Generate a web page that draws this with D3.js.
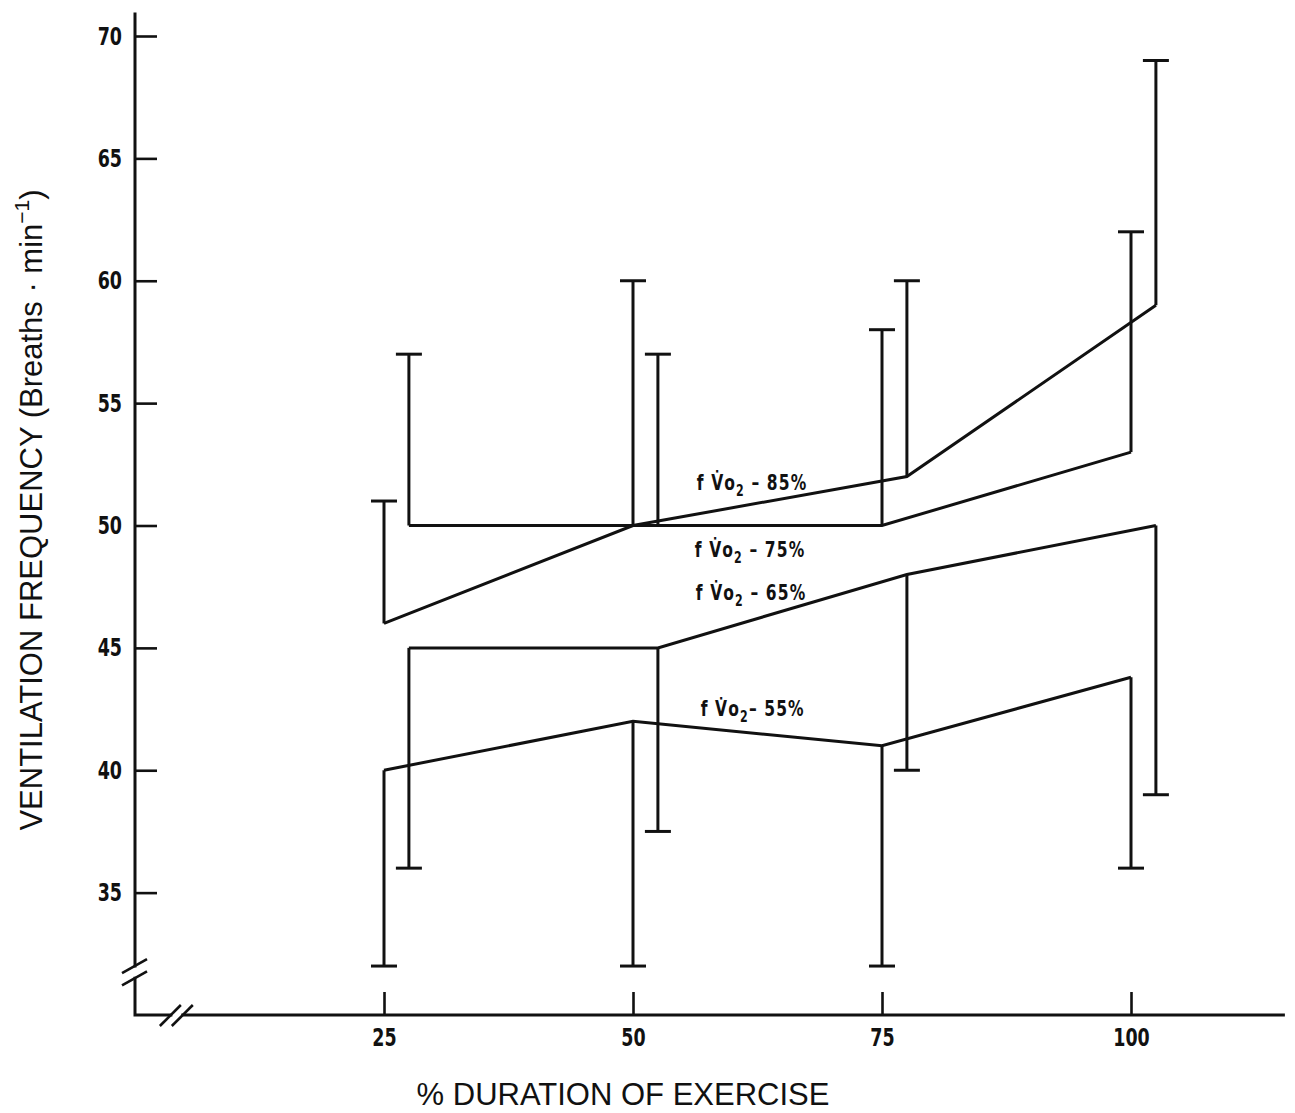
<!DOCTYPE html>
<html><head><meta charset="utf-8">
<script src="https://cdn.jsdelivr.net/npm/d3@7"></script>
<style>
html,body{margin:0;padding:0;background:#fff;}
svg{display:block;}
</style></head><body>
<svg id="chart" width="1295" height="1113"></svg>
<script>
// ---- data ----
const xTicks = [25, 50, 75, 100];
const yTicks = [35, 40, 45, 50, 55, 60, 65, 70];
const seriesLabels = ["85%", "75%", "65%", "55%"];
// f VO2 = 85 %
const x85 = [25, 50, 77.5, 102.5];
const mean85 = [46, 50, 52, 59];
const err85 = [51, 60, 60, 69];
// f VO2 = 75 %
const x75 = [27.5, 52.5, 75, 100];
const mean75 = [50, 50, 50, 53];
const err75 = [57, 57, 58, 62];
// f VO2 = 65 %
const x65 = [27.5, 52.5, 77.5, 102.5];
const mean65 = [45, 45, 48, 50];
const err65 = [36, 37.5, 40, 39];
// f VO2 = 55 %
const x55 = [25, 50, 75, 100];
const mean55 = [40, 42, 41, 43.8];
const err55 = [32, 32, 32, 36];
// label anchor positions in data units
const labelX = [56.4, 56.2, 56.3, 56.8];
const labelY = [51.45, 48.7, 46.95, 42.2];

const series = [
  {xs: x85, m: mean85, e: err85},
  {xs: x75, m: mean75, e: err75},
  {xs: x65, m: mean65, e: err65},
  {xs: x55, m: mean55, e: err55}
];

const svg = d3.select("#chart");
const x = d3.scaleLinear().domain([0, 100]).range([135, 1131]);
const y = d3.scaleLinear().domain([30, 70]).range([1015, 36]);
const xAxisEnd = 115.3, yAxisTop = 70.9;
const ink = "#111";
const tickFont = "'DejaVu Sans',sans-serif";
const sx = 0.7; // horizontal squeeze to mimic a condensed face

// y axis ticks and labels
const gy = svg.append("g").attr("transform", `translate(${x(0)},0)`)
  .call(d3.axisLeft(y).tickValues(yTicks).tickSize(-22).tickPadding(13).tickFormat(d3.format("d")));
gy.select(".domain").remove();
gy.selectAll(".tick line").attr("stroke", ink).attr("stroke-width", 2.6);
gy.selectAll(".tick text").attr("font-family", tickFont).attr("font-weight", "bold")
  .attr("font-size", 25).attr("fill", ink)
  .attr("x", -13 / sx).attr("transform", `scale(${sx},1)`);

// x axis ticks and labels
const gx = svg.append("g").attr("transform", `translate(0,${y(30)})`)
  .call(d3.axisBottom(x).tickValues(xTicks).tickSize(-23).tickPadding(13).tickFormat(d3.format("d")));
gx.select(".domain").remove();
gx.selectAll(".tick line").attr("stroke", ink).attr("stroke-width", 2.6);
gx.selectAll(".tick text").attr("font-family", tickFont).attr("font-weight", "bold")
  .attr("font-size", 25).attr("fill", ink).attr("transform", `scale(${sx},1)`);

// axis lines with breaks
const yBreak = [32.0, 31.5];
const xBreak = [3.6, 4.8];
const axes = svg.append("g").attr("stroke", ink).attr("stroke-width", 3).attr("fill", "none");
axes.append("path").attr("d", `M${x(0)},${y(yAxisTop)}V${y(yBreak[0])}M${x(0)},${y(yBreak[1])}V${y(30)}H${x(xBreak[0])}M${x(xBreak[1])},${y(30)}H${x(xAxisEnd)}`)
  .attr("stroke-linecap", "square");
yBreak.forEach(v => {
  axes.append("line").attr("x1", x(0) - 13).attr("y1", y(v) + 7).attr("x2", x(0) + 12).attr("y2", y(v) - 7).attr("stroke-width", 2.6);
});
xBreak.forEach(v => {
  axes.append("line").attr("x1", x(v) - 11).attr("y1", y(30) + 11).attr("x2", x(v) + 10).attr("y2", y(30) - 10).attr("stroke-width", 2.6);
});

// series lines and one-sided error bars
const line = d3.line().x(d => x(d.x)).y(d => y(d.m));
const plot = svg.append("g").attr("stroke", ink).attr("fill", "none").attr("stroke-width", 3);
series.forEach(s => {
  const pts = s.xs.map((xv, i) => ({x: xv, m: s.m[i], e: s.e[i]}));
  plot.append("path").attr("d", line(pts)).attr("stroke-linejoin", "miter");
  pts.forEach(p => {
    plot.append("line").attr("x1", x(p.x)).attr("x2", x(p.x)).attr("y1", y(p.m)).attr("y2", y(p.e));
    plot.append("line").attr("x1", x(p.x) - 13).attr("x2", x(p.x) + 13).attr("y1", y(p.e)).attr("y2", y(p.e));
  });
});

// series annotations
seriesLabels.forEach((lab, i) => {
  const t = svg.append("text")
    .attr("transform", `translate(${x(labelX[i])},${y(labelY[i])}) scale(0.74,1)`)
    .attr("font-family", tickFont).attr("font-weight", "bold").attr("font-size", 21)
    .attr("fill", ink).attr("letter-spacing", 1.5);
  t.append("tspan").text("f V\u0307o");
  t.append("tspan").attr("font-size", 15).attr("dy", 6).text("2");
  t.append("tspan").attr("dy", -6).text(i === 3 ? "\u2013 " + lab : " \u2013 " + lab);
});

// axis titles
svg.append("text").attr("x", 623).attr("y", 1105).attr("text-anchor", "middle")
  .attr("font-family", "'Liberation Sans',Arial,sans-serif").attr("font-size", 31).attr("fill", ink)
  .text("% DURATION OF EXERCISE");
const yt = svg.append("text").attr("transform", "translate(42,510) rotate(-90)").attr("text-anchor", "middle")
  .attr("font-family", "'Liberation Sans',Arial,sans-serif").attr("font-size", 31).attr("fill", ink);
yt.append("tspan").text("VENTILATION FREQUENCY  (Breaths \u00b7 min");
yt.append("tspan").attr("font-size", 21).attr("dy", -13).text("\u22121");
yt.append("tspan").attr("dy", 13).text(")");
</script>
</body></html>
